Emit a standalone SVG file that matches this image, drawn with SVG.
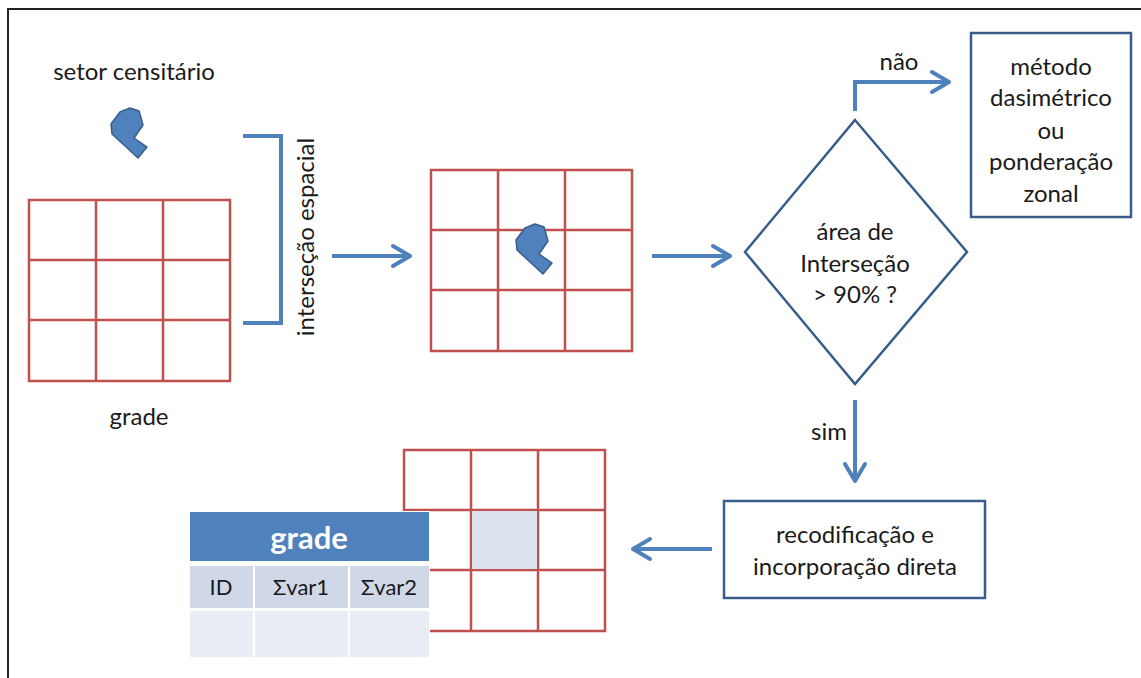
<svg xmlns="http://www.w3.org/2000/svg" width="1141" height="678" viewBox="0 0 1141 678">
<style>
  .t{font-family:Lato,"Open Sans","Liberation Sans",sans-serif;font-size:24px;fill:#1a1a1a;text-anchor:middle}
  .grid{fill:none;stroke:#c0504d;stroke-width:2.5}
  .con{fill:none;stroke:#4f81bd;stroke-width:4;stroke-linejoin:miter}
  .head{fill:none;stroke:#4f81bd;stroke-width:4;stroke-linecap:round;stroke-linejoin:round}
  .box{fill:#fff;stroke:#385d8a;stroke-width:2.5}
  .poly{fill:#4f81bd;stroke:#385d8a;stroke-width:1.5;stroke-linejoin:round}
</style>
<defs>
  <g id="cell3">
    <path class="grid" d="M0,0H201V181H0Z M67,0V181 M134,0V181 M0,60H201 M0,120H201"/>
  </g>
  <path id="shape" d="M111,124 L120,112 L130,108 L139,111 L143,125 L134,138 L147,147 L138,158 L112,134 Z"/>
</defs>
<rect x="0" y="0" width="1141" height="678" fill="#fff"/>
<path d="M8,678V9H1141" fill="none" stroke="#222" stroke-width="2"/>

<g id="setor">
  <text class="t" x="134" y="80">setor censitário</text>
  <use href="#shape" class="poly"/>
</g>
<g id="grade1">
  <use href="#cell3" x="29" y="200"/>
  <text class="t" x="139" y="425">grade</text>
</g>
<g id="intersecao">
  <path class="con" d="M243,136H281V323H243"/>
  <text class="t" transform="translate(314,237) rotate(-90)">interseção espacial</text>
</g>
<g id="grade2">
  <use href="#cell3" x="431" y="170"/>
  <use href="#shape" class="poly" transform="translate(405,116)"/>
</g>
<g id="decisao">
  <path class="box" d="M855,120L967,252L855,384L745,252Z"/>
  <text class="t" x="855" y="240">área de</text>
  <text class="t" x="855" y="272">Interseção</text>
  <text class="t" x="855" y="303">&gt; 90% ?</text>
</g>
<g id="metodo">
  <rect class="box" x="971" y="33" width="160" height="184"/>
  <text class="t" x="1051" y="75">método</text>
  <text class="t" x="1051" y="106">dasimétrico</text>
  <text class="t" x="1051" y="139">ou</text>
  <text class="t" x="1051" y="170">ponderação</text>
  <text class="t" x="1051" y="202">zonal</text>
</g>
<g id="recodificacao">
  <rect class="box" x="724" y="501" width="261" height="97"/>
  <text class="t" x="855" y="543">recodificação e</text>
  <text class="t" x="855" y="575">incorporação direta</text>
</g>
<g id="grade3">
  <use href="#cell3" x="404" y="450"/>
  <rect x="472" y="511" width="65" height="58" fill="#dce3ef"/>
</g>
<g id="tabela">
  <rect x="189" y="511" width="241" height="148" fill="#fff"/>
  <rect x="190" y="512" width="239" height="49" fill="#4f81bd"/>
  <text x="309" y="549" style="font-family:Lato,'Open Sans','Liberation Sans',sans-serif;font-size:31px;font-weight:bold;fill:#fff;text-anchor:middle">grade</text>
  <rect x="190" y="566" width="63" height="42" fill="#d0d8e8"/>
  <rect x="255" y="566" width="93" height="42" fill="#d0d8e8"/>
  <rect x="350" y="566" width="79" height="42" fill="#d0d8e8"/>
  <rect x="190" y="611" width="63" height="46" fill="#e9edf4"/>
  <rect x="255" y="611" width="93" height="46" fill="#e9edf4"/>
  <rect x="350" y="611" width="79" height="46" fill="#e9edf4"/>
  <text class="t" x="221" y="595" style="font-size:22px">ID</text>
  <text class="t" x="301" y="595" style="font-size:22px">Σvar1</text>
  <text class="t" x="389" y="595" style="font-size:22px">Σvar2</text>
</g>

<g id="connectors">
  <path class="con" d="M332,256H408"/>
  <path class="head" d="M393,246L410,256L393,266"/>
  <path class="con" d="M652,256H728"/>
  <path class="head" d="M713,246L730,256L713,266"/>
  <path class="con" d="M855,111V82H946"/>
  <path class="head" d="M932,72L949,82L932,92"/>
  <text class="t" x="899" y="70">não</text>
  <path class="con" d="M855,400V478"/>
  <path class="head" d="M845,464L855,481L865,464"/>
  <text class="t" x="829" y="440">sim</text>
  <path class="con" d="M712,549H636"/>
  <path class="head" d="M650,539L633,549L650,559"/>
</g>
</svg>
